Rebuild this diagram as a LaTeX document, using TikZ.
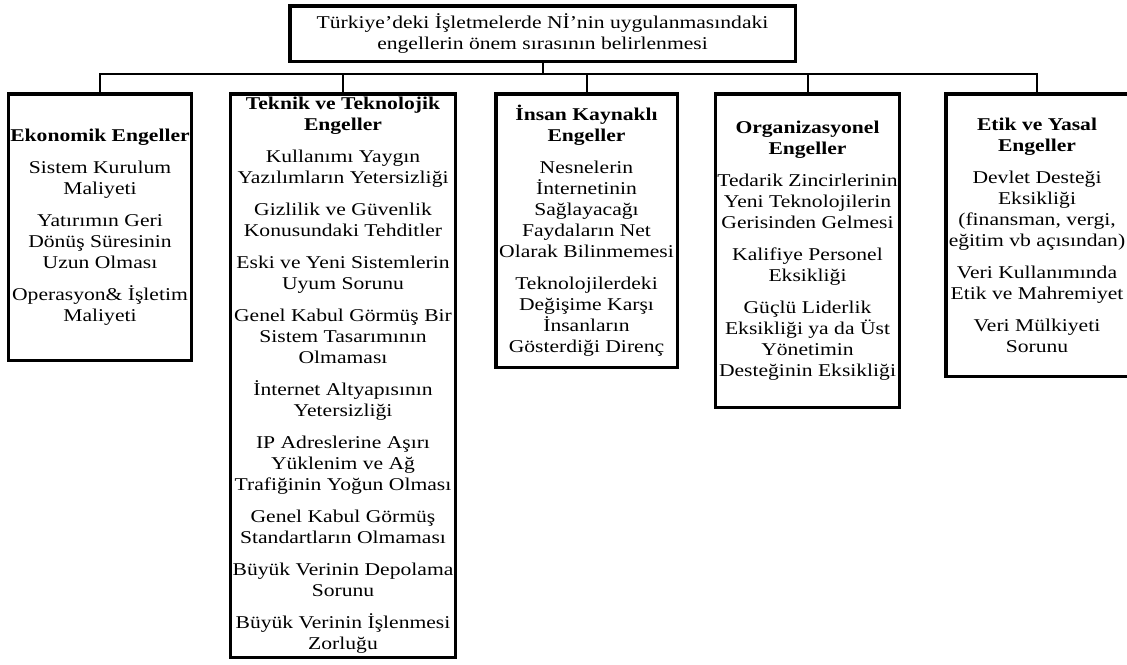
\documentclass[tikz,border=0pt]{standalone}
\usepackage{fontspec}
\setmainfont[FakeStretch=1.2]{Liberation Serif}

\begin{document}
\begin{tikzpicture}[
    x=1pt, y=-1pt,
    engel/.style={
        rectangle, draw=black, line width=3.5pt, fill=white,
        align=center, anchor=north, inner sep=2pt,
        font=\fontsize{18}{21}\selectfont
    },
    line/.style={line width=2pt, color=black}
]
    \useasboundingbox (0,0) rectangle (1127,664);
    % Nodes
    \node (title) [engel, minimum width=505.5pt, minimum height=55.5pt] at (542.5,4)
        {Türkiye’deki İşletmelerde Nİ’nin uygulanmasındaki\\engellerin önem sırasının belirlenmesi};
    \node (eko) [engel, minimum width=182.5pt, minimum height=266.5pt] at (100,92)
        {\textbf{Ekonomik Engeller}\\[11pt]
         Sistem Kurulum\\Maliyeti\\[11pt]
         Yatırımın Geri\\Dönüş Süresinin\\Uzun Olması\\[11pt]
         Operasyon\& İşletim\\Maliyeti};
    \node (tek) [engel, minimum width=224.5pt, minimum height=563.5pt] at (343,92)
        {\textbf{Teknik ve Teknolojik}\\\textbf{Engeller}\\[11pt]
         Kullanımı Yaygın\\Yazılımların Yetersizliği\\[11pt]
         Gizlilik ve Güvenlik\\Konusundaki Tehditler\\[11pt]
         Eski ve Yeni Sistemlerin\\Uyum Sorunu\\[11pt]
         Genel Kabul Görmüş Bir\\Sistem Tasarımının\\Olmaması\\[11pt]
         İnternet Altyapısının\\Yetersizliği\\[11pt]
         IP Adreslerine Aşırı\\Yüklenim ve Ağ\\Trafiğinin Yoğun Olması\\[11pt]
         Genel Kabul Görmüş\\Standartların Olmaması\\[11pt]
         Büyük Verinin Depolama\\Sorunu\\[11pt]
         Büyük Verinin İşlenmesi\\Zorluğu};
    \node (insan) [engel, minimum width=181.5pt, minimum height=273.5pt] at (586.5,92)
        {\textbf{İnsan Kaynaklı}\\\textbf{Engeller}\\[11pt]
         Nesnelerin\\İnternetinin\\Sağlayacağı\\Faydaların Net\\Olarak Bilinmemesi\\[11pt]
         Teknolojilerdeki\\Değişime Karşı\\İnsanların\\Gösterdiği Direnç};
    \node (org) [engel, minimum width=181.5pt, minimum height=313.5pt] at (807.5,92)
        {\textbf{Organizasyonel}\\\textbf{Engeller}\\[11pt]
         Tedarik Zincirlerinin\\Yeni Teknolojilerin\\Gerisinden Gelmesi\\[11pt]
         Kalifiye Personel\\Eksikliği\\[11pt]
         Güçlü Liderlik\\Eksikliği ya da Üst\\Yönetimin\\Desteğinin Eksikliği};
    \node (etik) [engel, minimum width=182.5pt, minimum height=282.5pt] at (1037,92)
        {\textbf{Etik ve Yasal}\\\textbf{Engeller}\\[11pt]
         Devlet Desteği\\Eksikliği\\(finansman, vergi,\\eğitim vb açısından)\\[11pt]
         Veri Kullanımında\\Etik ve Mahremiyet\\[11pt]
         Veri Mülkiyeti\\Sorunu};
    % Connections
    \coordinate (bar) at (542.5,74);
    \draw [line] (title.south) -- (bar);
    \draw [line] (bar) -| (eko.north);
    \draw [line] (bar) -| (tek.north);
    \draw [line] (bar) -| (insan.north);
    \draw [line] (bar) -| (org.north);
    \draw [line] (bar) -| (etik.north);
\end{tikzpicture}
\end{document}
